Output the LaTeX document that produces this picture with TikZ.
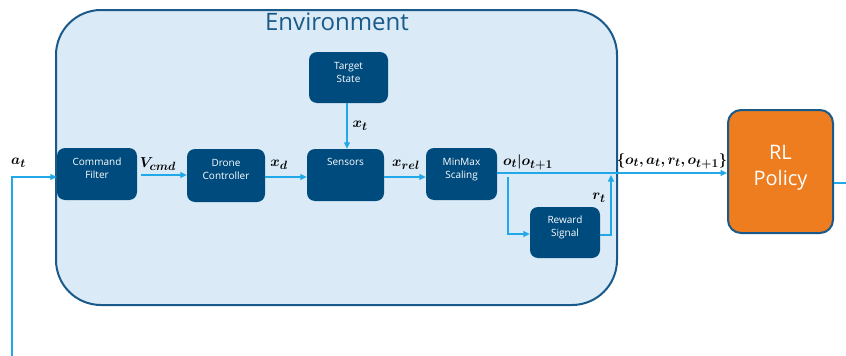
\documentclass[tikz,border=0pt]{standalone}
\usepackage{amsmath,bm}
\usepackage{fontspec}
\setmainfont{Open Sans}
\DeclareMathSizes{14.4}{14.4}{12}{10}
\usetikzlibrary{arrows.meta,calc}
\definecolor{envfill}{HTML}{DAEAF6}
\definecolor{envline}{HTML}{1A5A8A}
\definecolor{boxblue}{HTML}{004B7D}
\definecolor{arrowblue}{HTML}{21A8E8}
\definecolor{rlorange}{HTML}{EE7D1F}
\newcommand{\boxtext}[2]{\raisebox{#1}[0pt][0pt]{\begin{tabular}{@{}c@{}}#2\end{tabular}}}
\begin{document}
\begin{tikzpicture}[x=1pt,y=-1pt,
  blockbox/.style={rectangle, rounded corners=8pt, fill=boxblue, text=white,
    font=\fontsize{10}{13}\selectfont, inner sep=0pt},
  flow/.style={draw=arrowblue, line width=1.3pt, -{Triangle[length=6.5pt,width=6pt]}},
  plain/.style={draw=arrowblue, line width=1.3pt},
  lbl/.style={inner sep=0pt, font=\fontsize{14.4}{17}\selectfont}]
\useasboundingbox (0,0) rectangle (846,356);

% Environment container
\node[draw=envline, fill=envfill, line width=2pt, rounded corners=45pt,
  minimum width=561pt, minimum height=295pt, inner sep=0pt] (env) at (336.5,157.5) {};
\node[inner sep=0pt, text=envline, font=\fontsize{24}{28}\selectfont] (envtitle) at (337,22) {Environment};

% Blocks
\node[blockbox, minimum width=80pt, minimum height=52pt] (cmd) at (97,174) {\boxtext{2pt}{Command\\Filter}};
\node[blockbox, minimum width=78pt, minimum height=53pt] (drone) at (226,175.5) {\boxtext{2.5pt}{Drone\\Controller}};
\node[blockbox, minimum width=77pt, minimum height=52pt] (sensors) at (345.5,175) {\boxtext{9.5pt}{Sensors}};
\node[blockbox, minimum width=79pt, minimum height=51pt] (target) at (348.5,77.5) {\boxtext{2pt}{Target\\State}};
\node[blockbox, minimum width=71pt, minimum height=52pt] (minmax) at (461.5,174) {\boxtext{2pt}{MinMax\\Scaling}};
\node[blockbox, minimum width=70pt, minimum height=51pt] (reward) at (565,232.5) {\boxtext{2.5pt}{Reward\\Signal}};
\node[rectangle, rounded corners=13pt, fill=rlorange, draw=envline, line width=2pt, text=white,
  font=\fontsize{20}{26}\selectfont, inner sep=0pt, minimum width=105pt, minimum height=123pt]
  (rl) at (780.5,171.5) {\boxtext{-1pt}{RL\\Policy}};

% Connectors
\coordinate (loopbot) at (12,356);
\draw[flow] (loopbot) |- ([yshift=-3pt]cmd.west);
\draw[flow, shorten <=4pt] ([yshift=-1pt]cmd.east) -- ([yshift=-1pt]cmd.east -| drone.west);
\draw[flow] ([yshift=-1.5pt]drone.east) -- ([yshift=-1.5pt]drone.east -| sensors.west);
\draw[flow] ([yshift=-2pt]sensors.east) -- ([yshift=-2pt]sensors.east -| minmax.west);
\draw[flow] (target.south -| 347,0) -- (sensors.north -| 347,0);
\draw[flow] ([yshift=1pt]minmax.east) -- ([yshift=1pt]minmax.east -| rl.west);
\coordinate (brtop) at (508,177);
\draw[flow] (brtop) |- ([yshift=-1.5pt]reward.west);
\coordinate (rtop) at (611,175);
\draw[flow] ([yshift=-2.5pt]reward.east) -| (rtop);
\coordinate (outend) at (846,183);
\draw[plain] ([yshift=-11.5pt]rl.east) -- (outend);

% Labels
\node[lbl] (lat) at (18.5,163) {$\bm{a_t}$};
\node[lbl] (lvcmd) at (158,164) {$\bm{V_{cmd}}$};
\node[lbl] (lxd) at (279,165) {$\bm{x_d}$};
\node[lbl] (lxrel) at (406,165) {$\bm{x_{rel}}$};
\node[lbl] (lxt) at (360,126) {$\bm{x_t}$};
\node[lbl] (lobs) at (528,162) {$\bm{o_t|o_{t+1}}$};
\node[lbl] (lrt) at (599,198) {$\bm{r_t}$};
\node[lbl] (ltuple) at (672,161) {$\bm{\{o_t, a_t, r_t, o_{t+1}\}}$};
\end{tikzpicture}
\end{document}
